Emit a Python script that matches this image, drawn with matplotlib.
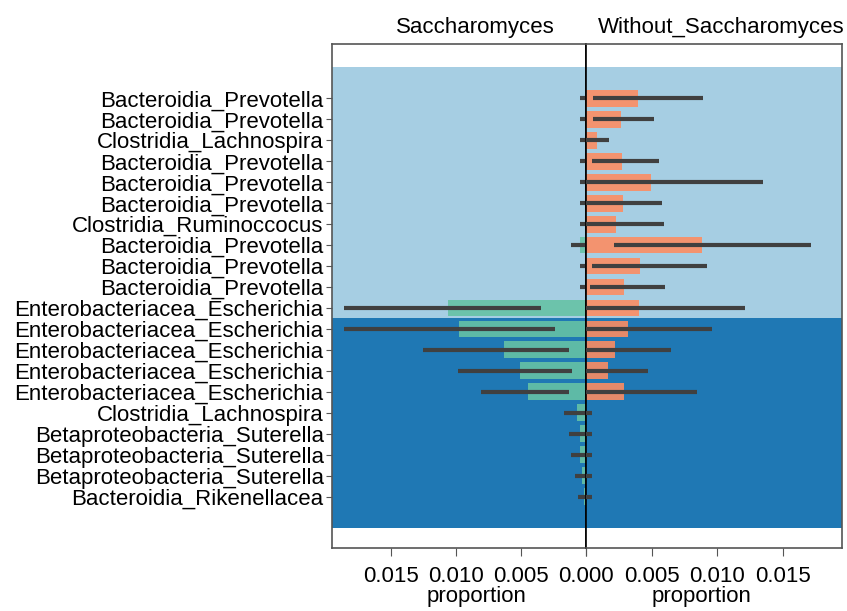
import numpy as np
import matplotlib
matplotlib.use('Agg')
import matplotlib.pyplot as plt

plt.rcParams['font.family'] = ['Liberation Sans', 'DejaVu Sans']

taxa = ['Bacteroidia_Prevotella', 'Bacteroidia_Prevotella', 'Clostridia_Lachnospira',
        'Bacteroidia_Prevotella', 'Bacteroidia_Prevotella', 'Bacteroidia_Prevotella',
        'Clostridia_Ruminoccocus', 'Bacteroidia_Prevotella', 'Bacteroidia_Prevotella',
        'Bacteroidia_Prevotella', 'Enterobacteriacea_Escherichia',
        'Enterobacteriacea_Escherichia', 'Enterobacteriacea_Escherichia',
        'Enterobacteriacea_Escherichia', 'Enterobacteriacea_Escherichia',
        'Clostridia_Lachnospira', 'Betaproteobacteria_Suterella',
        'Betaproteobacteria_Suterella', 'Betaproteobacteria_Suterella',
        'Bacteroidia_Rikenellacea']

# Saccharomyces group (left panel)
sacch_mean = [0.0001, 0.0001, 0.0001, 0.0001, 0.0001, 0.0001, 0.0001, 0.0005, 0.0001, 0.0001,
              0.0106, 0.00975, 0.0063, 0.0051, 0.00445,
              0.0007, 0.0005, 0.00045, 0.00033, 0.00015]
sacch_lo = [-0.0005, -0.0005, -0.0005, -0.0005, -0.0005, -0.0005, -0.0005, -0.0005, -0.0005, -0.0005,
            0.00346, 0.00242, 0.0013, 0.0011, 0.0013,
            -0.0005, -0.0005, -0.0005, -0.0005, -0.0005]
sacch_hi = [0.00046, 0.00046, 0.00046, 0.00046, 0.00046, 0.00046, 0.00046, 0.00117, 0.00046, 0.00046,
            0.0186, 0.0186, 0.01254, 0.00982, 0.00804,
            0.00173, 0.00135, 0.00117, 0.00084, 0.00059]

# Without_Saccharomyces group (right panel)
without_mean = [0.00395, 0.00265, 0.00082, 0.00272, 0.00494, 0.0028, 0.00229, 0.00883, 0.00412, 0.0029,
                0.00405, 0.00318, 0.00221, 0.00163, 0.00288,
                0.0, 0.0, 0.0, 0.0, 0.0]
without_lo = [0.00056, 0.00056, -0.0005, 0.00048, -0.0005, -0.0005, -0.0005, 0.00214, 0.00048, 0.0003,
              -0.0005, -0.0005, -0.0005, -0.0005, -0.0005,
              -0.0005, -0.0005, -0.0005, -0.0005, -0.0005]
without_hi = [0.00888, 0.00519, 0.00173, 0.00552, 0.01346, 0.00575, 0.00593, 0.01712, 0.00924, 0.00603,
              0.01214, 0.0096, 0.00649, 0.00473, 0.00842,
              0.00044, 0.00044, 0.00044, 0.00044, 0.00044]

ticks = [0.0, 0.005, 0.010, 0.015]
tick_labels = ['0.000', '0.005', '0.010', '0.015']

fig = plt.figure(figsize=(8.47, 6.11), dpi=100)
ax_l = fig.add_axes([0.392, 0.103, 0.300, 0.825])
ax_r = fig.add_axes([0.692, 0.103, 0.302, 0.825])

y = np.arange(len(taxa))
err_col = '#404040'

for ax, mean, lo, hi, col, title, tx in [
        (ax_l, sacch_mean, sacch_lo, sacch_hi, '#66c2a5', 'Saccharomyces', 0.565),
        (ax_r, without_mean, without_lo, without_hi, '#fc8d62', 'Without_Saccharomyces', 0.527)]:
    ax.axhspan(-1.5, 10.5, color='#a6cee3', lw=0, zorder=0)
    ax.axhspan(10.5, 20.5, color='#1f78b4', lw=0, zorder=0)
    ax.barh(y, mean, height=0.8, color=col, alpha=0.9, lw=0, zorder=2)
    ax.hlines(y, lo, hi, color=err_col, lw=3, zorder=3)
    ax.set_xlim(0, 0.0195)
    ax.set_ylim(21.46, -2.6)
    ax.set_xticks(ticks)
    ax.tick_params(axis='x', length=6, pad=7, color='#555555')
    ax.set_xlabel('proportion', fontsize=16)
    ax.set_title(title, fontsize=16, pad=8, x=tx)
    for s in ax.spines.values():
        s.set_color('#555555')
        s.set_linewidth(1.2)

ax_l.set_xticklabels(tick_labels, fontsize=16)
ax_r.set_xticklabels([''] + tick_labels[1:], fontsize=16)
ax_l.xaxis.set_label_coords(0.567, -0.075)
ax_r.xaxis.set_label_coords(0.453, -0.075)

ax_l.invert_xaxis()
ax_l.set_yticks(y)
ax_l.set_yticklabels(taxa, fontsize=16)
ax_l.tick_params(axis='y', length=4, pad=2, color='#555555')
ax_l.spines['right'].set_color('black')
ax_r.spines['left'].set_color('black')
ax_r.set_yticks([])

fig.savefig('out.png', dpi=100)
